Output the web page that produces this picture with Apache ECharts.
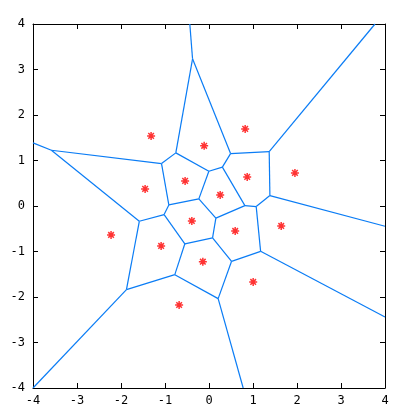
<!DOCTYPE html>
<html><head><meta charset="utf-8">
<script src="https://cdn.jsdelivr.net/npm/echarts@6/dist/echarts.min.js"></script>
<style>html,body{margin:0;padding:0;background:#fff}#c{width:409px;height:414px}</style>
</head><body><div id="c"></div>
<script>
// Sites (red stars)
const siteX = [-1.316, -0.110, 0.822, -1.452, -0.543, 0.868, 1.953, 0.254, -2.226, -0.390, -1.088, -0.140, -0.679, 0.595, 1.641, 1.004];
const siteY = [1.541, 1.322, 1.695, 0.376, 0.552, 0.640, 0.728, 0.244, -0.636, -0.328, -0.877, -1.223, -2.175, -0.548, -0.438, -1.669];
// Voronoi vertices
const vertX = [-0.374, -0.436, -0.754, -3.582, -4.0, -1.079, -0.913, -0.003, -0.231, 0.304, 0.490, 0.816, 1.073, 0.156, 0.081, 0.513, 1.173, 0.208, 1.368, 1.384, -1.584, -1.020, -0.549, -0.777, -1.876, 3.773, 4.0, 4.0, 0.777, -4.0];
const vertY = [3.235, 4.0, 1.168, 1.225, 1.388, 0.932, 0.024, 0.763, 0.156, 0.855, 1.152, 0.009, -0.013, -0.266, -0.701, -1.216, -0.996, -2.036, 1.196, 0.229, -0.336, -0.189, -0.831, -1.509, -1.838, 4.0, -0.446, -2.439, -4.0, -4.0];
// Edges as vertex index pairs
const edgeFrom = [1, 0, 0, 2, 2, 7, 7, 8, 8, 6, 6, 5, 3, 3, 20, 20, 21, 22, 22, 23, 23, 24, 9, 9, 10, 18, 18, 19, 19, 12, 12, 11, 13, 14, 15, 15, 16, 17];
const edgeTo   = [0, 10, 2, 5, 7, 9, 8, 6, 13, 5, 21, 3, 4, 20, 21, 24, 22, 14, 23, 24, 17, 29, 10, 11, 18, 25, 19, 12, 26, 11, 16, 13, 14, 15, 16, 17, 27, 28];
const axisMin = -4, axisMax = 4, axisStep = 1;

const sites = siteX.map((x, i) => [x, siteY[i]]);
const edges = edgeFrom.map((a, i) => ({coords: [[vertX[a], vertY[a]], [vertX[edgeTo[i]], vertY[edgeTo[i]]]]}));

const font = {fontFamily: 'DejaVu Sans Mono', fontSize: 12, color: '#000'};
const line = {show: true, onZero: false, lineStyle: {color: '#000', width: 1}};
const tick = {show: true, inside: true, length: 5, lineStyle: {color: '#000', width: 1}};
function ax(extra) {
  return Object.assign({type: 'value', min: axisMin, max: axisMax, interval: axisStep,
    axisLine: line, axisTick: tick, splitLine: {show: false}}, extra);
}
const chart = echarts.init(document.getElementById('c'), null, {renderer: 'canvas'});
chart.setOption({
  animation: false,
  backgroundColor: '#fff',
  grid: {left: 33, right: 24, top: 24, bottom: 26, containLabel: false},
  xAxis: [
    ax({position: 'bottom', axisLabel: Object.assign({margin: 7}, font)}),
    ax({position: 'top', axisLabel: {show: false}})
  ],
  yAxis: [
    ax({position: 'left', axisLabel: Object.assign({margin: 8}, font)}),
    ax({position: 'right', axisLabel: {show: false}})
  ],
  series: [
    {type: 'lines', coordinateSystem: 'cartesian2d', polyline: false,
     lineStyle: {color: '#0a7cf5', width: 1.2, opacity: 1}, data: edges, silent: true, z: 2},
    {type: 'scatter', data: sites, symbol: 'path://M0 4L8 4M4 0L4 8M1.2 1.2L6.8 6.8M6.8 1.2L1.2 6.8',
     symbolSize: 8, itemStyle: {color: 'red', borderColor: 'red', borderWidth: 1.5}, z: 3}
  ]
});
</script></body></html>
